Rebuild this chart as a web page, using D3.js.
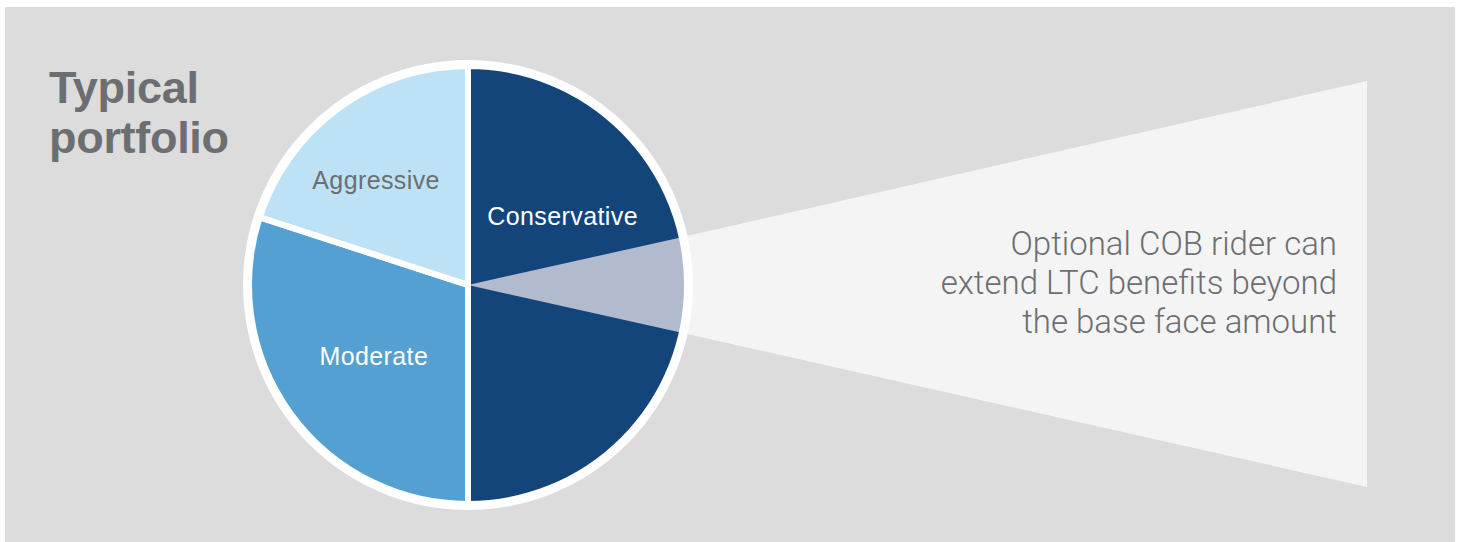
<!DOCTYPE html>
<html>
<head>
<meta charset="utf-8">
<script src="https://cdn.jsdelivr.net/npm/d3@7"></script>
<style>
  body { margin: 0; background: #fff; }
  svg { display: block; }
</style>
</head>
<body>
<svg id="chart"></svg>
<script>
// portfolio split (percent of the pie)
const categories = ['Conservative', 'Moderate', 'Aggressive']
const shares = [50, 30, 20]
const colors = ['#13457a', '#54a0d2', '#bde2f5']
const labelColors = ['#ffffff', '#ffffff', '#6d6e71']

// rider wedge, sits in the middle of the conservative slice
const riderShare = 7

const titleLines = ['Typical', 'portfolio']
const calloutLines = ['Optional COB rider can', 'extend LTC benefits beyond', 'the base face amount']

const w = 1463
const h = 542
const cx = 468
const cy = 285
const r = 219

const svg = d3.select('#chart').attr('width', w).attr('height', h)

// grey panel
svg.append('rect').attr('x', 5).attr('y', 7).attr('width', 1450).attr('height', h)
  .attr('fill', '#dcdcdc')

// title
svg.append('g').selectAll('text').data(titleLines).join('text')
  .attr('x', 49).attr('y', (d, i) => 103 + i * 50)
  .text(d => d)
  .style('font-family', '"Liberation Sans", Arial, sans-serif')
  .style('font-weight', 'bold').style('font-size', '45px')
  .style('letter-spacing', '-0.3px')
  .attr('fill', '#6d6e71')

const data = categories.map((c, i) => ({ name: c, value: shares[i], color: colors[i], label: labelColors[i] }))
const arcs = d3.pie().sort(null).value(d => d.value)(data)
const arcGen = d3.arc().innerRadius(0).outerRadius(r)

// rider wedge angles
const cons = arcs[0]
const mid = (cons.startAngle + cons.endAngle) / 2
const half = riderShare / 100 * Math.PI
const rider = { startAngle: mid - half, endAngle: mid + half }

// callout beam from the rider wedge to the right
const p1 = d3.pointRadial(rider.startAngle, r + 3)
const p2 = d3.pointRadial(rider.endAngle, r + 3)
const beamX = 1367
svg.append('polygon')
  .attr('points', [[cx + p1[0] - 8, cy + p1[1] + 1.8], [beamX, 81], [beamX, 487], [cx + p2[0] - 8, cy + p2[1] - 1.8]].map(p => p.join(',')).join(' '))
  .attr('fill', '#f4f4f4')

svg.append('g').selectAll('text').data(calloutLines).join('text')
  .attr('x', 1337).attr('y', (d, i) => 255 + i * 39)
  .attr('text-anchor', 'end')
  .text(d => d)
  .style('font-family', 'Roboto, sans-serif')
  .style('font-weight', 300).style('font-size', '33px')
  .attr('fill', '#6d6e71')

const pie = svg.append('g').attr('transform', `translate(${cx},${cy})`)

pie.selectAll('path.slice').data(arcs).join('path').attr('class', 'slice')
  .attr('d', arcGen).attr('fill', d => d.data.color)

pie.append('path').attr('d', arcGen(rider)).attr('fill', '#b2bace')

// white separators + outer ring
pie.selectAll('path.edge').data(arcs).join('path').attr('class', 'edge')
  .attr('d', arcGen).attr('fill', 'none')
  .attr('stroke', '#fff').attr('stroke-width', 6)
pie.append('circle').attr('r', r + 3).attr('fill', 'none')
  .attr('stroke', '#fff').attr('stroke-width', 6)

// labels (angle as fraction of a turn, radius)
const labelSpots = { Conservative: [0.15, 117], Moderate: [0.647, 118], Aggressive: [0.885, 139] }
pie.selectAll('text').data(arcs).join('text')
  .attr('transform', d => {
    const s = labelSpots[d.data.name]
    return `translate(${d3.pointRadial(s[0] * 2 * Math.PI, s[1])})`
  })
  .attr('text-anchor', 'middle').attr('dy', '0.35em')
  .text(d => d.data.name)
  .style('font-family', '"Liberation Sans", Arial, sans-serif')
  .style('font-size', '25px').style('letter-spacing', '0.4px')
  .attr('fill', d => d.data.label)
</script>
</body>
</html>
